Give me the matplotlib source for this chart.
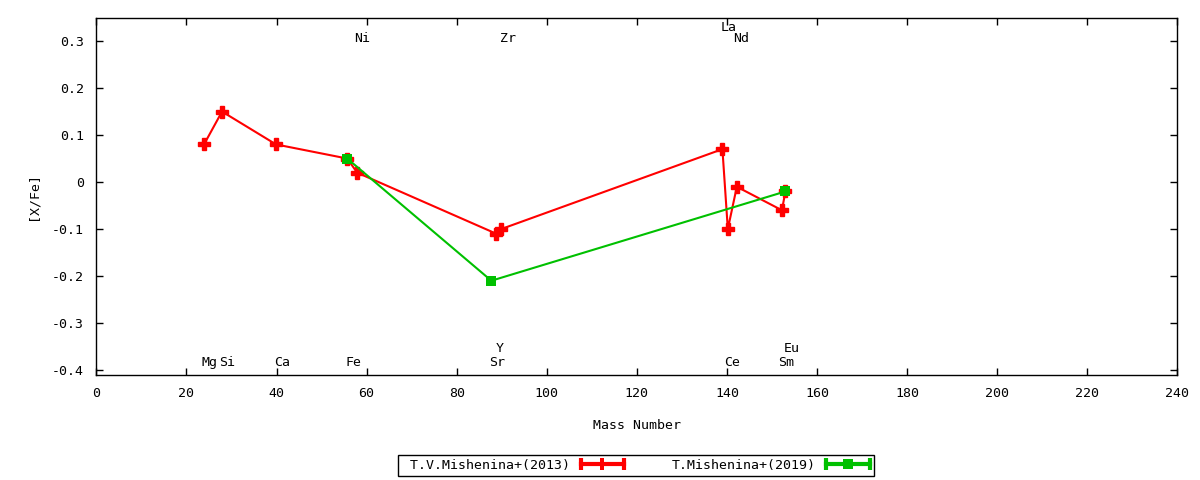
import matplotlib
matplotlib.use('Agg')
import matplotlib.pyplot as plt
from matplotlib.lines import Line2D
from matplotlib.legend_handler import HandlerBase

plt.rcParams['font.family'] = ['DejaVu Sans Mono']
plt.rcParams['font.size'] = 9.5

# T.V.Mishenina+(2013)
mass_2013 = [23.9, 27.9, 39.9, 55.7, 57.9, 88.8, 89.9, 139.0, 140.2, 142.2, 152.2, 153.0]
xfe_2013 = [0.08, 0.15, 0.08, 0.05, 0.02, -0.11, -0.10, 0.07, -0.10, -0.01, -0.06, -0.02]

# T.Mishenina+(2019)
mass_2019 = [55.7, 87.7, 153.0]
xfe_2019 = [0.05, -0.21, -0.02]

# element labels (name, x, y)
elem_names = ['Mg', 'Si', 'Ca', 'Fe', 'Ni', 'Sr', 'Y', 'Zr', 'La', 'Ce', 'Nd', 'Sm', 'Eu']
elem_x = [25.2, 29.1, 41.2, 57.2, 59.0, 89.0, 89.5, 91.3, 140.3, 141.2, 143.2, 153.2, 154.3]
elem_y = [-0.385, -0.385, -0.385, -0.385, 0.306, -0.385, -0.355, 0.306, 0.329, -0.385, 0.306, -0.385, -0.355]

xticks = list(range(0, 241, 20))
yticks = [-0.4, -0.3, -0.2, -0.1, 0, 0.1, 0.2, 0.3]
ytick_labels = ['-0.4', '-0.3', '-0.2', '-0.1', '0', '0.1', '0.2', '0.3']

red = '#ff0000'
green = '#00c000'


class CapHandler(HandlerBase):
    # gnuplot style key sample: line with end caps and the point in the middle
    def create_artists(self, legend, orig_handle, xdescent, ydescent,
                       width, height, fontsize, trans):
        y = height / 2 - ydescent
        x0, x1 = -xdescent, width - xdescent
        c = orig_handle.get_color()
        line = Line2D([x0, x1], [y, y], color=c, lw=3)
        caps = Line2D([x0, x1], [y, y], ls='none', marker='|', ms=8, mew=3, color=c)
        mid = Line2D([(x0 + x1) / 2], [y], ls='none', marker=orig_handle.get_marker(),
                     ms=orig_handle.get_markersize(), color=c, mec=c, mew=0)
        for a in (line, caps, mid):
            a.set_transform(trans)
        return [line, caps, mid]


fig = plt.figure(figsize=(12, 4.8), dpi=100)
ax = fig.add_axes([0.0803, 0.2188, 0.9008, 0.7442])

l1, = ax.plot(mass_2013, xfe_2013, color=red, lw=1.5, marker='P', ms=8,
              mec=red, label=' T.V.Mishenina+(2013)')
l2, = ax.plot(mass_2019, xfe_2019, color=green, lw=1.5, marker='s', ms=7.5,
              mew=0, label='T.Mishenina+(2019)')

for n, x, y in zip(elem_names, elem_x, elem_y):
    ax.text(x, y, n, ha='center', va='center')

ax.set_xlim(0, 240)
ax.set_ylim(-0.4106, 0.3496)
ax.set_xticks(xticks)
ax.set_yticks(yticks)
ax.set_yticklabels(ytick_labels)
ax.tick_params(direction='in', top=True, right=True, length=5, width=1, pad=9)
for s in ax.spines.values():
    s.set_linewidth(1)

ax.set_xlabel('Mass Number', labelpad=13)
ax.set_ylabel('[X/Fe]', labelpad=9)

fig.legend(handles=[l1, l2], loc='center', bbox_to_anchor=(0.53, 0.031), ncol=2,
           markerfirst=False, handlelength=3.3, handletextpad=0.8, columnspacing=3.6,
           frameon=True, fancybox=False, edgecolor='black', framealpha=1,
           borderpad=0.3, handler_map={Line2D: CapHandler()})
fig.legends[0].get_frame().set_linewidth(1)

fig.savefig('out.png', dpi=100)
